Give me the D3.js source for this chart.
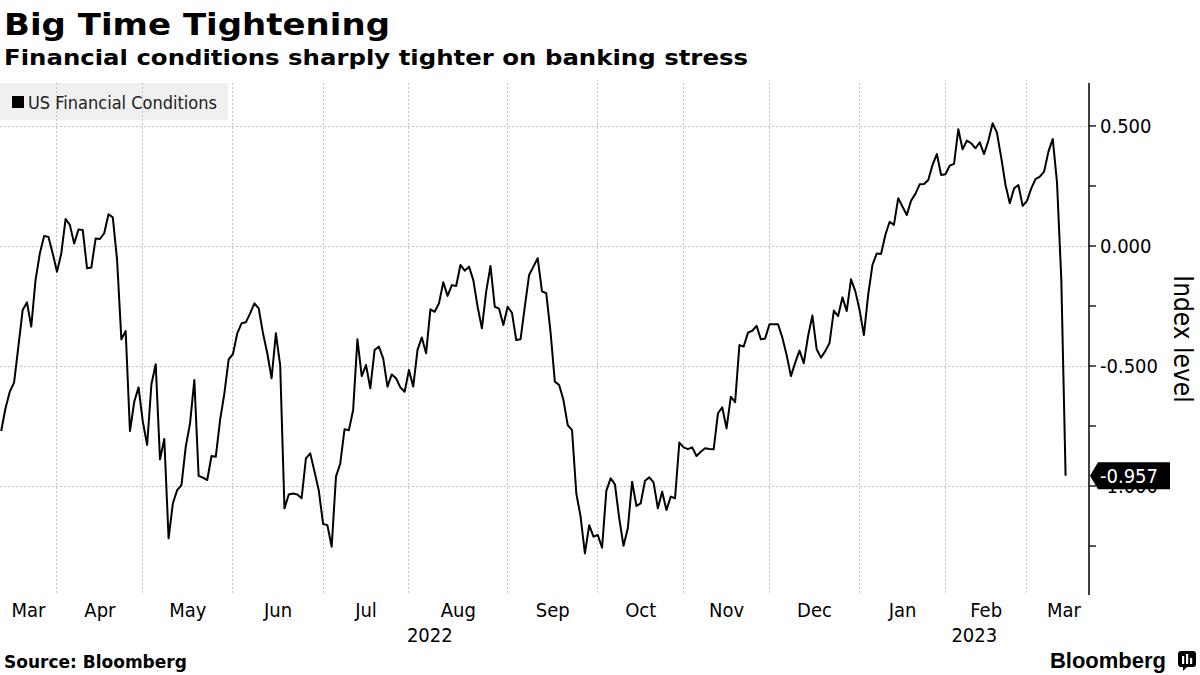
<!DOCTYPE html>
<html>
<head>
<meta charset="utf-8">
<script src="https://cdn.jsdelivr.net/npm/d3@7"></script>
<style>
  html, body { margin: 0; padding: 0; background: #ffffff; }
  svg { display: block; }
</style>
</head>
<body>
<svg id="chart" width="1200" height="675"></svg>
<script>
// ---------------- DATA ----------------
const title = "Big Time Tightening";
const subtitle = "Financial conditions sharply tighter on banking stress";
const seriesName = "US Financial Conditions";
const yAxisTitle = "Index level";
const sourceText = "Source: Bloomberg";
const startDate = "2022-03-15";
// US bond-market holidays skipped by the daily series
const holidays = ["2022-04-15","2022-05-30","2022-06-20","2022-07-04","2022-09-05",
  "2022-10-10","2022-11-11","2022-11-24","2022-12-26","2023-01-02","2023-01-16","2023-02-20"];
// one value per trading day
const values = [
  -0.771,-0.676,-0.607,-0.569,-0.419,-0.267,-0.235,-0.336,-0.142,-0.031,
   0.042, 0.038,-0.031,-0.107,-0.031, 0.112, 0.088, 0.010, 0.069, 0.067,
  -0.093,-0.090, 0.031, 0.029, 0.053, 0.132, 0.119,-0.058,-0.389,-0.354,
  -0.771,-0.649,-0.589,-0.732,-0.829,-0.576,-0.493,-0.889,-0.804,-1.218,
  -1.072,-1.017,-0.996,-0.836,-0.739,-0.558,-0.958,-0.965,-0.975,-0.875,
  -0.878,-0.725,-0.614,-0.472,-0.450,-0.364,-0.322,-0.318,-0.281,-0.239,
  -0.260,-0.364,-0.447,-0.551,-0.364,-0.496,-1.093,-1.035,-1.031,-1.035,
  -1.051,-0.885,-0.864,-0.940,-1.019,-1.158,-1.163,-1.253,-0.961,-0.906,
  -0.763,-0.768,-0.683,-0.389,-0.542,-0.496,-0.593,-0.433,-0.419,-0.468,
  -0.586,-0.535,-0.551,-0.589,-0.607,-0.517,-0.586,-0.433,-0.381,-0.447,
  -0.264,-0.274,-0.239,-0.151,-0.208,-0.163,-0.167,-0.079,-0.103,-0.086,
  -0.142,-0.253,-0.343,-0.190,-0.083,-0.253,-0.261,-0.329,-0.253,-0.278,
  -0.392,-0.389,-0.253,-0.121,-0.086,-0.051,-0.189,-0.197,-0.360,-0.565,
  -0.579,-0.642,-0.746,-0.767,-1.031,-1.128,-1.281,-1.163,-1.211,-1.204,
  -1.257,-1.019,-0.968,-0.993,-1.135,-1.249,-1.176,-0.982,-1.083,-1.072,
  -0.978,-0.964,-0.985,-1.093,-1.024,-1.100,-1.044,-1.051,-0.819,-0.839,
  -0.846,-0.839,-0.875,-0.857,-0.843,-0.846,-0.847,-0.697,-0.672,-0.760,
  -0.628,-0.651,-0.413,-0.419,-0.361,-0.353,-0.333,-0.389,-0.385,-0.326,
  -0.326,-0.326,-0.381,-0.454,-0.542,-0.486,-0.436,-0.488,-0.375,-0.290,
  -0.430,-0.465,-0.438,-0.404,-0.269,-0.292,-0.214,-0.271,-0.139,-0.188,
  -0.267,-0.371,-0.204,-0.079,-0.031,-0.033, 0.046, 0.101, 0.088, 0.199,
   0.164, 0.129, 0.189, 0.217, 0.257, 0.258, 0.275, 0.338, 0.383, 0.296,
   0.299, 0.335, 0.342, 0.486, 0.403, 0.439, 0.428, 0.407, 0.432, 0.383,
   0.438, 0.511, 0.472, 0.368, 0.254, 0.178, 0.240, 0.254, 0.167, 0.188,
   0.240, 0.279, 0.289, 0.310, 0.393, 0.446, 0.265,-0.140,-0.957
];
const yMajorTicks = [-1.0, -0.5, 0.0, 0.5];
const yMinorTicks = [-1.25, -0.75, -0.25, 0.25];
const yDomain = [-1.454, 0.679];

// ---------------- LAYOUT ----------------
const W = 1200, H = 675;
const plot = { left: 0, right: 1089, top: 83, bottom: 595 };
const condFont = "'DejaVu Sans Condensed', 'DejaVu Sans', sans-serif";
const boldFont = "'DejaVu Sans', Verdana, sans-serif";
const gridColor = "#c4c4c4";

// trading dates
const parse = d3.utcParse("%Y-%m-%d");
const fmtKey = d3.utcFormat("%Y-%m-%d");
const holidaySet = new Set(holidays);
const dates = [];
{
  let d = parse(startDate);
  while (dates.length < values.length) {
    const wd = d.getUTCDay();
    if (wd !== 0 && wd !== 6 && !holidaySet.has(fmtKey(d))) dates.push(d);
    d = d3.utcDay.offset(d, 1);
  }
}
const data = values.map((v, i) => ({ i, date: dates[i], value: v }));

const x = d3.scaleLinear().domain([0, values.length - 1]).range([plot.left + 1.2, plot.left + 1065.6]);
const y = d3.scaleLinear().domain(yDomain).range([plot.bottom, plot.top]);

const svg = d3.select("#chart");
svg.append("rect").attr("width", W).attr("height", H).attr("fill", "#ffffff");

// Title and subtitle
svg.append("text").attr("x", 4).attr("y", 35)
  .attr("font-family", boldFont).attr("font-weight", "bold").attr("font-size", 30)
  .attr("textLength", 386).attr("lengthAdjust", "spacingAndGlyphs")
  .attr("fill", "#000").text(title);
svg.append("text").attr("x", 4).attr("y", 65)
  .attr("font-family", boldFont).attr("font-weight", "bold").attr("font-size", 21)
  .attr("textLength", 744).attr("lengthAdjust", "spacingAndGlyphs")
  .attr("fill", "#000").text(subtitle);

// Legend background
svg.append("rect").attr("x", 0).attr("y", 83).attr("width", 228).attr("height", 37)
  .attr("fill", "#f0f0f0");

// Month boundaries (first trading day of each month)
const monthStarts = [];
data.forEach((d, k) => {
  if (k === 0 || d.date.getUTCMonth() !== data[k - 1].date.getUTCMonth()) monthStarts.push(d);
});
const boundaryX = monthStarts.slice(1).map(d => x(d.i));

// vertical grid
svg.append("g").selectAll("line").data(boundaryX).join("line")
  .attr("x1", d => d).attr("x2", d => d)
  .attr("y1", plot.top).attr("y2", plot.bottom)
  .attr("stroke", gridColor).attr("stroke-width", 1).attr("stroke-dasharray", "2,2")
  .attr("shape-rendering", "crispEdges");

// horizontal grid
svg.append("g").selectAll("line").data(yMajorTicks).join("line")
  .attr("x1", plot.left).attr("x2", plot.right)
  .attr("y1", d => Math.round(y(d)) + 0.5).attr("y2", d => Math.round(y(d)) + 0.5)
  .attr("stroke", gridColor).attr("stroke-width", 1).attr("stroke-dasharray", "2,2");

// Legend content
svg.append("rect").attr("x", 12).attr("y", 96).attr("width", 12).attr("height", 12).attr("fill", "#000");
svg.append("text").attr("x", 28).attr("y", 108.5)
  .attr("font-family", condFont).attr("font-size", 18).attr("fill", "#222").text(seriesName);

// Month labels
const labelLimits = [plot.left, plot.right + 12];
const monthEdges = [labelLimits[0], ...boundaryX, labelLimits[1]];
const monthFmt = d3.utcFormat("%b");
svg.append("g").selectAll("text").data(monthStarts).join("text")
  .attr("x", (d, k) => (monthEdges[k] + monthEdges[k + 1]) / 2)
  .attr("y", 617)
  .attr("text-anchor", "middle")
  .attr("font-family", condFont).attr("font-size", 20).attr("fill", "#000")
  .text(d => monthFmt(d.date));

// Year labels: centred over each year's span
const years = d3.groups(data, d => d.date.getUTCFullYear());
const yearSpans = years.map(([yr, arr], k) => {
  const startX = k === 0 ? plot.left : x(arr[0].i);
  const endX = k === years.length - 1 ? plot.right : x(years[k + 1][1][0].i);
  return { yr, cx: (startX + endX) / 2 };
});
svg.append("g").selectAll("text").data(yearSpans).join("text")
  .attr("x", d => d.cx).attr("y", 642)
  .attr("text-anchor", "middle")
  .attr("font-family", condFont).attr("font-size", 20).attr("fill", "#000")
  .text(d => d.yr);

// Line
const line = d3.line().x(d => x(d.i)).y(d => y(d.value));
svg.append("path").datum(data).attr("d", line)
  .attr("fill", "none").attr("stroke", "#000").attr("stroke-width", 2)
  .attr("stroke-linejoin", "round");

// Right axis
const axisG = svg.append("g").attr("transform", `translate(${plot.right},0)`);
axisG.append("line").attr("x1", 0).attr("x2", 0).attr("y1", plot.top).attr("y2", plot.bottom)
  .attr("stroke", "#000").attr("stroke-width", 1.5);
axisG.selectAll("line.tick").data(yMajorTicks.concat(yMinorTicks)).join("line")
  .attr("class", "tick")
  .attr("x1", 0).attr("x2", 7)
  .attr("y1", d => y(d)).attr("y2", d => y(d))
  .attr("stroke", "#000").attr("stroke-width", 1.3);
axisG.selectAll("text.tl").data(yMajorTicks).join("text")
  .attr("class", "tl")
  .attr("x", 11).attr("y", d => y(d)).attr("dy", "0.36em")
  .attr("font-family", condFont).attr("font-size", 20).attr("fill", "#000")
  .text(d => d.toFixed(3));

// Axis title
svg.append("text")
  .attr("transform", `translate(1174,339) rotate(90)`)
  .attr("text-anchor", "middle")
  .attr("font-family", condFont).attr("font-size", 26).attr("fill", "#000")
  .text(yAxisTitle);

// Last value label
const last = data[data.length - 1];
const ly = y(last.value);
const lblG = svg.append("g");
lblG.append("path")
  .attr("d", `M${plot.right + 1},${ly} L${plot.right + 9},${ly - 13.5} L${plot.right + 81},${ly - 13.5} L${plot.right + 81},${ly + 13.5} L${plot.right + 9},${ly + 13.5} Z`)
  .attr("fill", "#000");
lblG.append("text").attr("x", plot.right + 11).attr("y", ly).attr("dy", "0.36em")
  .attr("font-family", condFont).attr("font-size", 20).attr("fill", "#fff")
  .text(last.value.toFixed(3));

// Footer
svg.append("text").attr("x", 4).attr("y", 668)
  .attr("font-family", boldFont).attr("font-weight", "bold").attr("font-size", 17)
  .attr("fill", "#000").text(sourceText);
svg.append("text").attr("x", 1166).attr("y", 668).attr("text-anchor", "end")
  .attr("font-family", "'Liberation Sans', Arial, sans-serif").attr("font-weight", "bold").attr("font-size", 22)
  .attr("fill", "#000").text("Bloomberg");
const icon = svg.append("g").attr("transform", "translate(1178,651)");
icon.append("rect").attr("x", 0).attr("y", 0).attr("width", 18).attr("height", 16).attr("rx", 3).attr("fill", "#000");
icon.append("path").attr("d", "M5,15 L5,20 L10,15 Z").attr("fill", "#000");
icon.append("rect").attr("x", 4).attr("y", 5).attr("width", 2.2).attr("height", 8).attr("fill", "#fff");
icon.append("rect").attr("x", 8).attr("y", 3).attr("width", 2.2).attr("height", 10).attr("fill", "#fff");
icon.append("rect").attr("x", 12).attr("y", 7).attr("width", 2.2).attr("height", 6).attr("fill", "#fff");
</script>
</body>
</html>
